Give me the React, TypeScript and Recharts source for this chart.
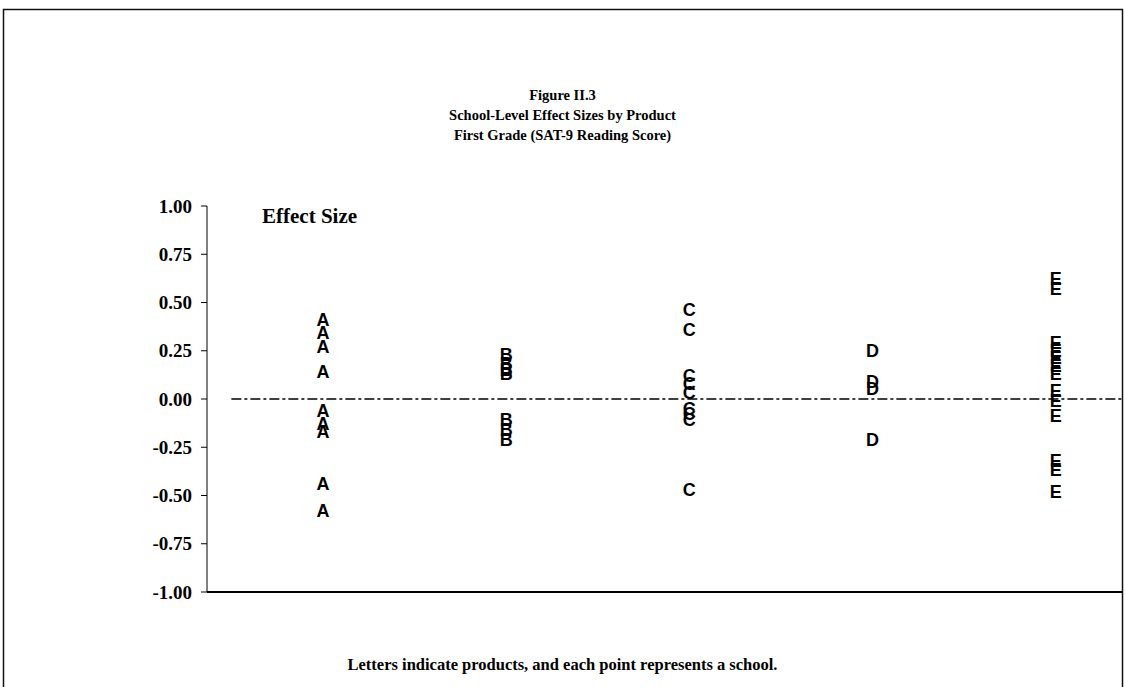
import { ScatterChart, Scatter, XAxis, YAxis, ReferenceLine } from "recharts";

const productNames = ["A", "B", "C", "D", "E"];
const productA = [0.41, 0.34, 0.27, 0.14, -0.06, -0.13, -0.17, -0.44, -0.58];
const productB = [0.23, 0.18, 0.15, 0.13, -0.11, -0.16, -0.21];
const productC = [0.46, 0.36, 0.12, 0.08, 0.03, -0.05, -0.08, -0.11, -0.47];
const productD = [0.25, 0.09, 0.05, -0.21];
const productE = [0.62, 0.57, 0.29, 0.25, 0.21, 0.17, 0.13, 0.04, -0.01, -0.09, -0.32, -0.37, -0.48];
const yTicks = [-1, -0.75, -0.5, -0.25, 0, 0.25, 0.5, 0.75, 1];

const titleLines = [
  "Figure II.3",
  "School-Level Effect Sizes by Product",
  "First Grade (SAT-9 Reading Score)",
];
const yLabel = "Effect Size";
const note = "Letters indicate products, and each point represents a school.";

const allSeries = [productA, productB, productC, productD, productE];

const serif = '"Liberation Serif", "DejaVu Serif", serif';

const letterShape = (letter: string) => (props: any) => (
  <text
    x={props.cx}
    y={props.cy}
    textAnchor="middle"
    dominantBaseline="central"
    fontFamily='"Liberation Sans", Arial, sans-serif'
    fontWeight="bold"
    fontSize={18}
    fill="#000"
  >
    {letter}
  </text>
);

const YTick = (props: any) => {
  const { x, y, payload } = props;
  return (
    <text
      x={x}
      y={y}
      textAnchor="end"
      dominantBaseline="central"
      fontFamily={serif}
      fontWeight="bold"
      fontSize={19}
      fill="#000"
    >
      {payload.value.toFixed(2)}
    </text>
  );
};

const App = () => {
  return (
    <div
      style={{
        position: "fixed",
        left: 0,
        top: 0,
        width: 1125,
        height: 687,
        overflow: "hidden",
        background: "#fff",
      }}
    >
      <svg
        width={1125}
        height={687}
        style={{ position: "absolute", left: 0, top: 0 }}
      >
        <path d="M 3.5 700 L 3.5 9.5 L 1122.5 9.5 L 1122.5 700" fill="none" stroke="#111" strokeWidth={1.5} />
      </svg>
      <div style={{ position: "absolute", left: 0, top: 0 }}>
        <ScatterChart
          width={1125}
          height={687}
          margin={{ top: 206, right: 2, bottom: 93, left: 147 }}
        >
          <XAxis
            type="number"
            dataKey="x"
            domain={[0.367, 5.367]}
            allowDataOverflow
            height={2}
            tick={false}
            tickLine={false}
            axisLine={{ stroke: "#000", strokeWidth: 2 }}
          />
          <YAxis
            type="number"
            dataKey="y"
            domain={[-1, 1]}
            ticks={yTicks}
            width={60}
            tickSize={6}
            tickMargin={9}
            tick={<YTick />}
            tickLine={{ stroke: "#000" }}
            axisLine={{ stroke: "#000" }}
          />
          <ReferenceLine
            segment={[
              { x: 0.5, y: 0 },
              { x: 5.367, y: 0 },
            ]}
            stroke="#000"
            strokeWidth={1.5}
            strokeDasharray="10 3 3 3"
            ifOverflow="visible"
          />
          {allSeries.map((values, i) => (
            <Scatter
              key={productNames[i]}
              name={productNames[i]}
              data={values.map((v) => ({ x: i + 1, y: v }))}
              shape={letterShape(productNames[i])}
              isAnimationActive={false}
            />
          ))}
        </ScatterChart>
      </div>
      <div
        style={{
          position: "absolute",
          left: 0,
          top: 85,
          width: 1125,
          textAlign: "center",
          fontFamily: serif,
          fontWeight: "bold",
          fontSize: 14.5,
          lineHeight: "20px",
        }}
      >
        {titleLines.map((t) => (
          <div key={t}>{t}</div>
        ))}
      </div>
      <div
        style={{
          position: "absolute",
          left: 262,
          top: 203,
          fontFamily: serif,
          fontWeight: "bold",
          fontSize: 21,
          lineHeight: "26px",
        }}
      >
        {yLabel}
      </div>
      <div
        style={{
          position: "absolute",
          left: 0,
          top: 655,
          width: 1125,
          textAlign: "center",
          fontFamily: serif,
          fontWeight: "bold",
          fontSize: 16.5,
          lineHeight: "20px",
        }}
      >
        {note}
      </div>
    </div>
  );
};

export default App;
